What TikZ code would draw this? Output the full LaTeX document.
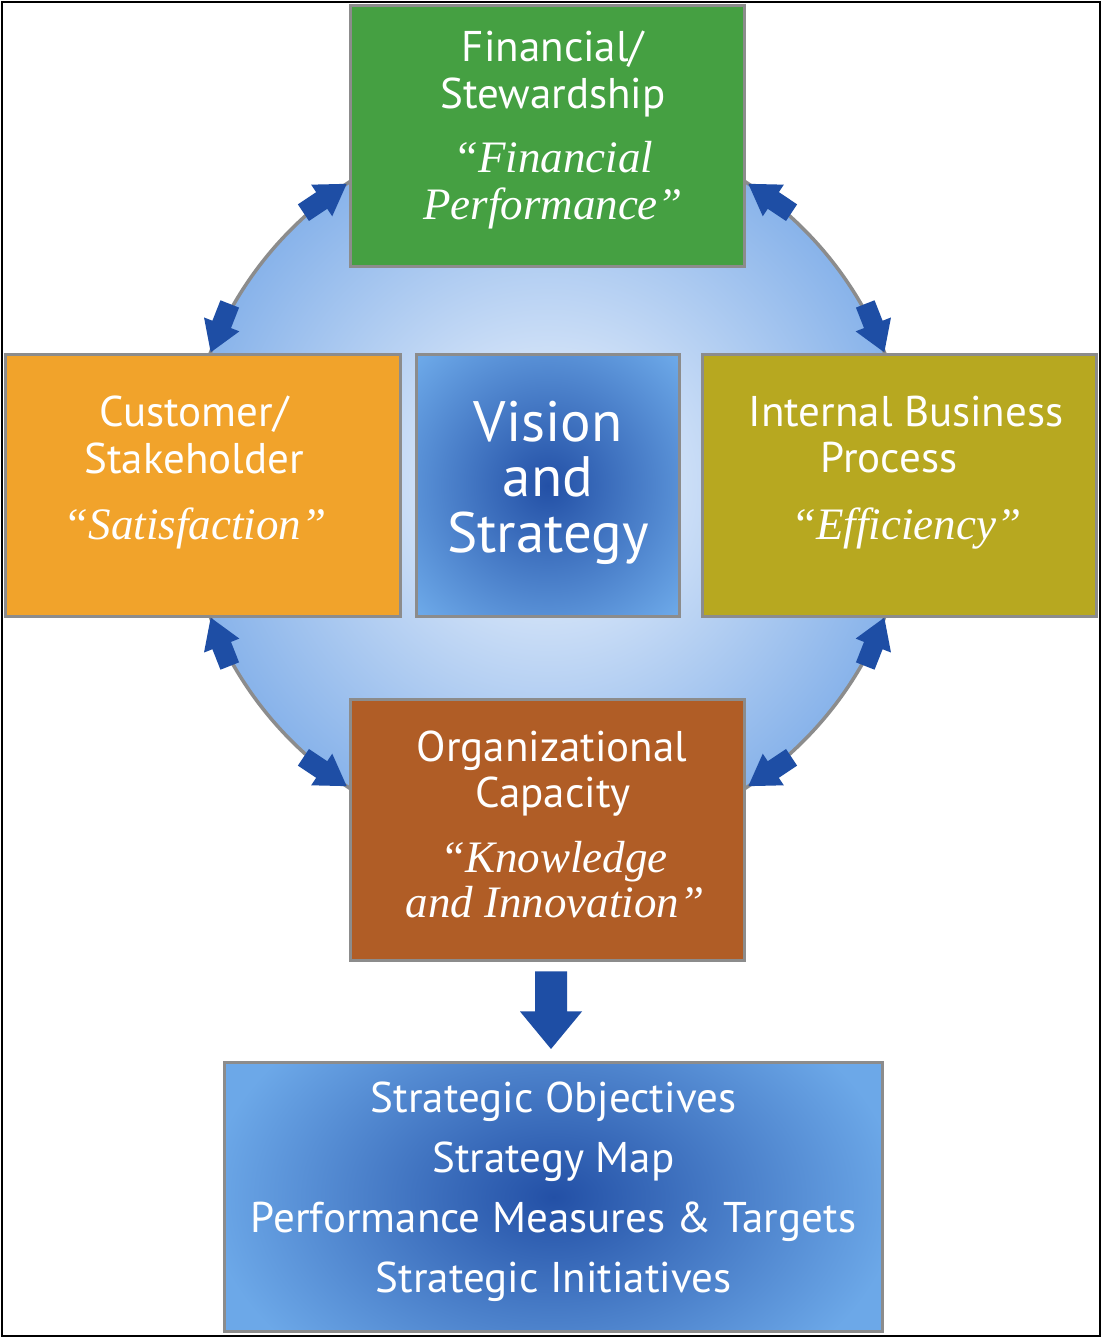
\documentclass[tikz,border=0pt]{standalone}
\usepackage{fontspec}
\newfontfamily\sansf{PT Sans}
\newfontfamily\itf{Liberation Serif}
\usetikzlibrary{calc}
\definecolor{cgreen}{HTML}{45A042}
\definecolor{corange}{HTML}{F1A32B}
\definecolor{colive}{HTML}{B7A820}
\definecolor{cbrown}{HTML}{B05D26}
\definecolor{cblue}{HTML}{1E4EA5}
\definecolor{cgray}{HTML}{8C8C8C}
\definecolor{ringout}{HTML}{88B3EA}
\definecolor{ringin}{HTML}{F4F8FE}
\definecolor{bluelight}{HTML}{6CA8E8}
\definecolor{bluedark}{HTML}{2350A6}
\tikzset{
  box/.style={draw=cgray, line width=3pt, inner sep=0pt, outer sep=0pt},
  txt/.style={text=white, font=\sansf\fontsize{43}{48}\selectfont, anchor=base, inner sep=0pt},
  big/.style={text=white, font=\sansf\fontsize{57}{60}\selectfont, anchor=base, inner sep=0pt},
  itx/.style={text=white, font=\itf\itshape\fontsize{45}{48}\selectfont, anchor=base, inner sep=0pt},
  gradbox/.style n args={2}{box, path picture={
      \fill[bluelight] (path picture bounding box.south west) rectangle (path picture bounding box.north east);
      \shade[inner color=bluedark, outer color=bluelight] (path picture bounding box.center) ellipse (#1 and #2);}},
  barrow/.pic={\fill[cblue] (0,0) -- (-30,19) -- (-30,10) -- (-52,10) -- (-52,-10) -- (-30,-10) -- (-30,-19) -- cycle;}
}
\begin{document}
\begin{tikzpicture}[x=1pt,y=1pt]
\fill[white] (0,0) rectangle (1102,1338);
\useasboundingbox (0,0) rectangle (1102,1338);
% ring
\coordinate (C) at (547.5,853);
\shade[inner color=ringin, outer color=ringout] (C) circle (362);
\draw[cgray, line width=3.5pt] (C) circle (362);
% boxes
\node[box, fill=cgreen, minimum width=394, minimum height=261] (fin) at (547.5,1202) {};
\node[box, fill=corange, minimum width=395, minimum height=262] (cus) at (203,852.5) {};
\node[gradbox={180}{180}, minimum width=263, minimum height=262] (vis) at (548,852.5) {};
\node[box, fill=colive, minimum width=394, minimum height=262] (int) at (899.5,852.5) {};
\node[box, fill=cbrown, minimum width=394, minimum height=261] (org) at (547.5,508) {};
\node[gradbox={345}{230}, minimum width=658, minimum height=269] (res) at (553.5,141) {};
% texts
\node[txt] (fin1) at (553,1276) {Financial/};
\node[txt] (fin2) at (553,1229) {Stewardship};
\node[itx] (fin3) at (553,1165) {“Financial};
\node[itx] (fin4) at (553,1118) {Performance”};
\node[txt] (cus1) at (194,911) {Customer/};
\node[txt] (cus2) at (194,864) {Stakeholder};
\node[itx] (cus3) at (195,798) {“Satisfaction”};
\node[big] (vis1) at (548,896) {Vision};
\node[big] (vis2) at (548,841) {and};
\node[big] (vis3) at (548,785) {Strategy};
\node[txt] (int1) at (906,911) {Internal Business};
\node[txt] (int2) at (889,865) {Process};
\node[itx] (int3) at (906,798) {“Efficiency”};
\node[txt] (org1) at (552,576) {Organizational};
\node[txt] (org2) at (553,530) {Capacity};
\node[itx] (org3) at (554,465) {“Knowledge};
\node[itx] (org4) at (555,420) {and Innovation”};
\node[txt] (res1) at (553.5,225) {Strategic Objectives};
\node[txt] (res2) at (553.5,165) {Strategy Map};
\node[txt] (res3) at (553.5,105) {Performance Measures \& Targets};
\node[txt] (res4) at (553.5,45) {Strategic Initiatives};
% ring arrow tips
\path (C) ++(123.7:362) coordinate (t1);
\path (C) ++(158.5:362) coordinate (t2);
\path (C) ++(56.3:362) coordinate (t3);
\path (C) ++(21.5:362) coordinate (t4);
\path (C) ++(201.5:362) coordinate (t5);
\path (C) ++(236.3:362) coordinate (t6);
\path (C) ++(338.5:362) coordinate (t7);
\path (C) ++(303.7:362) coordinate (t8);
\pic[rotate=33.7] at (t1) {barrow};
\pic[rotate=248.5] at (t2) {barrow};
\pic[rotate=146.3] at (t3) {barrow};
\pic[rotate=291.5] at (t4) {barrow};
\pic[rotate=111.5] at (t5) {barrow};
\pic[rotate=326.3] at (t6) {barrow};
\pic[rotate=68.5] at (t7) {barrow};
\pic[rotate=213.7] at (t8) {barrow};
% down arrow
\coordinate (dtop) at ($(org.south)+(3.5,-11)$);
\coordinate (dtip) at ($(res.north)+(-2.5,13.5)$);
\fill[cblue] ($(dtop)+(-16,0)$) -- ($(dtop)+(16,0)$) -- ($(dtop)+(16,-40)$) -- ($(dtop)+(31,-40)$) -- (dtip) -- ($(dtop)+(-31,-40)$) -- ($(dtop)+(-16,-40)$) -- cycle;
% frame
\draw[line width=2pt] (2,2) rectangle (1100,1336);
\end{tikzpicture}
\end{document}
